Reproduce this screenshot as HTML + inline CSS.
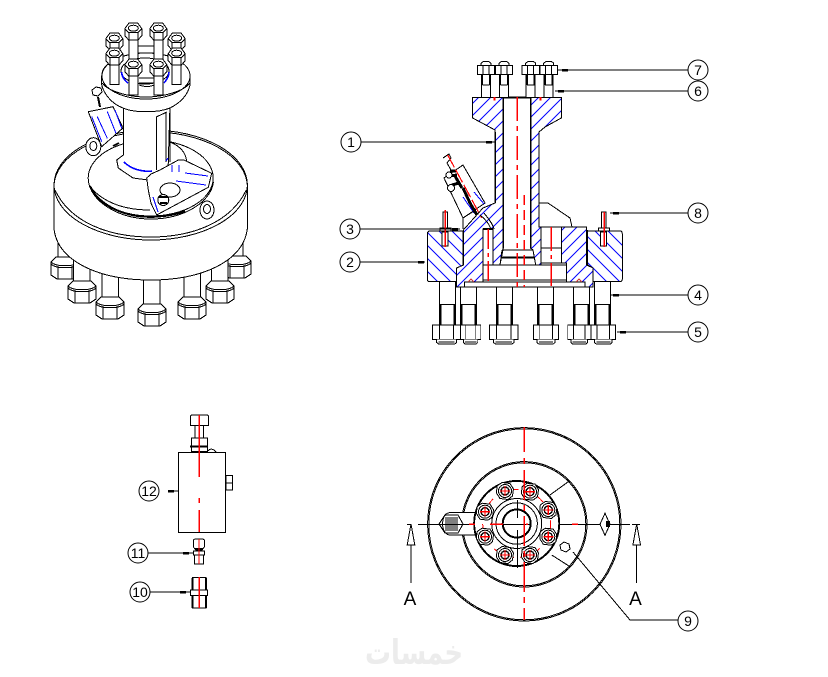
<!DOCTYPE html>
<html><head><meta charset="utf-8"><style>
html,body{margin:0;padding:0;background:#fff}
svg{display:block}
text{font-family:"Liberation Sans","DejaVu Sans",sans-serif;fill:#000}
.n{font-size:14px;text-anchor:middle}
.d{fill:none;stroke:#000;stroke-width:1}
.w{fill:#fff;stroke:#000;stroke-width:1}
.h{stroke:#000;stroke-width:1}
.r{fill:none;stroke:#f00;stroke-width:1.2;stroke-dasharray:24 5 5 5}
.b{fill:none;stroke:#00f;stroke-width:1}
.t{fill:none;stroke:#000;stroke-width:2}
</style></head><body>
<svg width="828" height="677" viewBox="0 0 828 677" xmlns="http://www.w3.org/2000/svg">
<defs>
<pattern id="hf" width="12" height="12" patternUnits="userSpaceOnUse"><path d="M-1 13L13 -1M-3 3L3 -3M9 15L15 9" stroke="#00f" stroke-width="1"/></pattern>
<pattern id="hb" width="13" height="13" patternUnits="userSpaceOnUse"><path d="M-1 -1L14 14M-3 10L3 16M10 -3L16 3" stroke="#00f" stroke-width="1"/></pattern>
<g id="tb"><rect class="w" x="-4.500" y="12.600" width="9" height="23.400"/><path class="t" d="M-3.600 12.600V23.300M3.600 12.600V23.300" style="stroke-width:1.400"/><path class="d" d="M-3.600 23.300H3.600"/><path class="w" d="M-5 4V1.500L-3 0H3L5 1.500V4"/><rect class="w" x="-8.700" y="4" width="17.400" height="8.600"/><path class="d" d="M-3 4V12.600M3 4V12.600"/></g>
<g id="nb"><rect class="w" x="-14" y="0" width="28" height="14.300"/><path class="d" d="M-7 0V14.300M7 0V14.300"/><path class="w" d="M-10 14.300V17.500L-8 19H8L10 17.500V14.300"/><path class="d" d="M-8 17H8"/></g>
<g id="sb"><rect class="w" x="-8" y="0" width="16" height="43.500"/><path class="t" d="M-7 22.600V43.500M7 22.600V43.500"/><path class="d" d="M-8 22.600H8"/></g>
<g id="sb2"><rect class="w" x="-8" y="0" width="16" height="38"/><path class="t" d="M-7 17.300V38M7 17.300V38"/><path class="d" d="M-8 17.300H8"/></g>
<g id="n3"><path class="w" d="M-8.500 -3L-4.500 -8.500H4.500L8.500 -3V4L4.500 8.500H-4.500L-8.500 4Z"/><path class="d" d="M-8.500 -3L-4.500 1H4.500L8.500 -3M-4.500 1V8.500M4.500 1V8.500"/><ellipse class="d" cx="0" cy="-3.500" rx="5" ry="3"/></g>
<g id="b3"><rect class="w" x="-4.500" y="4" width="9" height="24"/><use href="#n3"/></g>
<g id="bb"><path class="w" d="M-14 -6L-9 -11H9L14 -6V7L8 11H-8L-14 7Z"/><path class="d" d="M-14 -6C-9 -1 9 -1 14 -6M-7 -2V11M7 -2V11M-14 -4C-9 1 9 1 14 -4"/></g>
<g id="tv"><path class="w" d="M-8 -5L-3 -8.500L5 -7.500L8.500 -2L7.500 5L3 8.500L-5 7.500L-8.500 2Z"/><circle class="d" cx="0" cy="0" r="6.500"/><circle cx="0" cy="0" r="4" fill="none" stroke="#000" stroke-width="1.400"/><path d="M-5 0H5M0 -5V5" stroke="#f00" stroke-width="1.200"/></g>
<g id="ar"><path d="M0 -59V0" class="d"/><path class="w" d="M0 -59L3.800 -38H-3.800Z"/></g>
</defs>

<!-- 3D VIEW -->
<g shape-rendering="crispEdges">
<rect class="w" x="58" y="240" width="14" height="20"/><use href="#bb" x="65" y="268"/>
<rect class="w" x="229" y="240" width="14" height="20"/><use href="#bb" x="237" y="267"/>
<rect class="w" x="73.500" y="255" width="16.700" height="27"/><use href="#bb" x="82" y="292"/>
<rect class="w" x="211.500" y="255" width="16.700" height="27"/><use href="#bb" x="220" y="292"/>
<rect class="w" x="102" y="265" width="16.700" height="33"/><use href="#bb" x="110" y="308"/>
<rect class="w" x="184" y="265" width="16.700" height="33"/><use href="#bb" x="192" y="308"/>
<rect class="w" x="143.500" y="270" width="16.700" height="36"/><use href="#bb" x="152" y="315"/>

<path class="w" d="M54 185V229C58 262 100 280 150.700 280C201 280 243 262 247.300 229V185A96.700 55 0 0 0 54 185Z"/>
<ellipse class="d" cx="150.700" cy="185" rx="96.700" ry="55"/>
<path class="d" d="M55 190C70 222 108 237 150.700 237C193 237 231 222 246.300 190"/>

<!-- eye bolts -->
<ellipse class="w" cx="93.300" cy="146.700" rx="7.500" ry="9"/><ellipse class="d" cx="93.300" cy="146" rx="3.500" ry="4.500"/>
<ellipse class="w" cx="207" cy="210" rx="7" ry="9"/><ellipse class="d" cx="207" cy="209" rx="3.500" ry="4.500"/>

<!-- raised base -->
<ellipse class="w" cx="150.700" cy="178" rx="62.500" ry="38"/>
<path class="d" d="M88.300 180C90 201 118 219 151 219C184 219 211 202 213.500 182"/>
<path class="t" d="M90 186C96 200 112 210 128 214M128 214C145 219 170 217 185 211"/>
<path class="d" d="M93 190C108 205 128 210 150 210"/>

<!-- valve -->
<path class="w" d="M88.300 111.700L113 106.700L123 128L101.700 146.700Z"/>
<path class="b" d="M91.700 116.700L101.700 141.700M97.300 116.700L107.300 138.300M107.300 111.700L116 133.300M115 110L121.700 128.300"/>
<path class="t" d="M98 97L100 107"/>
<path class="w" d="M92 90L96 87L101 88L102 92L98 96L93 95Z"/>
<path class="t" d="M113 146L119 143"/>

<!-- neck -->
<path class="w" d="M123.300 105V155L116.700 160L118.300 168L133 178L148 180L168 172L170 105Z"/>
<path class="d" d="M156.700 116.700V170M166 112V162M170 112V162M156.700 116.700L167 112"/>
<path class="b" d="M124 162C132 170 144 172 152 171" style="stroke-width:1.600"/>
<path class="d" d="M170 142C180 146 186 152 186.700 162"/>

<!-- rib -->
<path class="w" d="M146.700 178L151 174L160 170L178.300 160L184 160L211.700 173.300L208.300 187.300L156.700 215L151 203.300L148.300 190Z"/>
<path class="b" d="M172 165V172M179 165V172M185 173L208 176M176 181L206 185M153 197L158 212M166 161L168 158"/>
<ellipse class="d" cx="170" cy="190" rx="10" ry="7"/>
<circle class="w" cx="163.300" cy="200" r="5.500"/>
<path class="t" d="M159 197H168M160 203H167"/>

<!-- flange -->
<path class="w" d="M101.700 76V85C104 94 112 104 123 108C134 113 158 113 170 108C182 102 188 94 190 85V76A44 23 0 0 0 101.700 76Z"/>
<path class="d" d="M102 83C108 91 128 97 146 97C164 97 184 91 190 83"/>
<ellipse class="d" cx="146" cy="76" rx="44" ry="23"/>
<use href="#b3" x="133.300" y="31.700"/><use href="#b3" x="158.300" y="31.700"/>
<path class="d" d="M138 46H154"/>
<use href="#b3" x="114.300" y="41.700"/><use href="#b3" x="176.700" y="41.700"/>
<use href="#b3" x="114.300" y="56.700"/><use href="#b3" x="176.700" y="56.700"/>
<ellipse class="w" cx="145" cy="71" rx="24" ry="13"/>
<path class="b" d="M121.500 72C122 77 125 81 128 83M169 72C169 76 166 81 164 83" style="stroke-width:1.600"/>
<path class="d" d="M139 78H154M139 83H154M139 85C144 87 150 87 154 85"/>
<g><rect class="w" x="128.800" y="70" width="9" height="25"/><rect class="w" x="153.800" y="70" width="9" height="25"/></g>
<use href="#n3" x="133.300" y="67.700"/><use href="#n3" x="158.300" y="67.700"/>
</g>

<!-- SECTION -->
<g shape-rendering="crispEdges">
<path class="h" style="fill:url(#hb)" d="M430 231H463.300V265L456.700 268V281.700H430Q427.300 281.700 427.300 279V234Q427.300 231 430 231Z"/>
<path class="h" style="fill:url(#hb)" d="M587.700 231H620Q622.300 231 622.300 234V279Q622.300 281.700 620 281.700H593V268L587.700 265Z"/>
<path class="h" style="fill:url(#hf)" d="M472.700 97.700H503.300V248L500 265H493V229H483V282H464.300V287H456.700V268L463.300 265V230L483 208L495 203V130L472.700 118Z"/>
<path class="h" style="fill:url(#hf)" d="M530.500 97.700H561.300V118L545 127L539 132V227H541V265H535.700L533 250L530.500 248Z"/>
<path class="h" style="fill:url(#hf)" d="M561.700 227H586.700V265L593 268V287H585V282H566.700V263H561.700Z"/>
<path class="d" d="M539 203H548L570 218L572 227H587"/>
<path class="t" d="M503.300 97.700H530.500"/>
<path class="t" style="stroke-width:1.500" d="M503.300 97.700V248M530.500 97.700V248M463.300 231V265M587 230V265M495 203V132"/>
<path class="d" d="M483 229H493V265M483 265H566.700V280H483M541 227H561.700V263H541V227M541 248H561.700M464.300 282H585V287H456.700"/>
<path class="d" d="M502 250H533M500 265L502 250M535.700 265L533 250"/>
<path class="t" d="M501 257.700H534M483 229H493"/>
<path d="M468 282L471 279L474 282M576 282L579 279L582 282" fill="none" stroke="#c33"/>

<!-- top bolts -->
<use href="#tb" x="486" y="61.700"/><use href="#tb" x="504" y="61.700"/><use href="#tb" x="530.700" y="61.700"/><use href="#tb" x="548.700" y="61.700"/>
<path d="M494.700 97V100.500M540.300 97V100.500" stroke="#f00" stroke-width="2"/>

<!-- lower bolts -->
<use href="#sb" x="447.300" y="281.700"/><use href="#sb2" x="468.700" y="287"/><use href="#sb2" x="504.700" y="287"/><use href="#sb2" x="545.300" y="287"/><use href="#sb2" x="581.300" y="287"/><use href="#sb" x="602.700" y="281.700"/>
<use href="#nb" transform="translate(446.700 325)"/>
<use href="#nb" transform="translate(470.700 325) scale(.71 1)"/>
<use href="#nb" transform="translate(503.800 325) scale(1.030 1)"/>
<use href="#nb" transform="translate(546 325) scale(.9 1)"/>
<use href="#nb" transform="translate(579.300 325) scale(.83 1)"/>
<use href="#nb" transform="translate(603.300 325) scale(.88 1)"/>

<!-- small bolts -->
<rect class="w" x="443" y="212" width="4.500" height="16"/><rect class="w" x="440" y="228" width="11" height="3"/><rect class="w" x="442" y="232" width="6" height="14"/>
<rect class="w" x="601.500" y="212" width="4.500" height="16"/><rect class="w" x="598.500" y="228" width="11" height="3"/><rect class="w" x="600.500" y="232" width="6" height="14"/>
<path d="M445.300 210V247M604.300 212V247" stroke="#f00" stroke-width="1.200"/>

<!-- valve -->
<path class="w" d="M444 178L463 165L485 203L463 218Z"/>
<path class="b" d="M463 197L474 213M474 192L484 204"/>
<path class="d" d="M443 158L449 154L451 158L447 163L451 170"/>
<path d="M450 171L456 171M449 176L457 175M455 176L462 188M463 188L470 203M470 203L477 215M452 185L459 183" stroke="#000" stroke-width="3" fill="none"/>
<circle class="w" cx="451" cy="188" r="3.500"/><circle class="w" cx="449" cy="175" r="3"/>
<path d="M447.700 155L481.700 218" stroke="#f00" stroke-width="1.200" stroke-dasharray="14 3"/>
<path class="d" d="M480 215C486 220 490 225 491 230M484 213C488 218 493 224 494 229M463 218V229M463 218L474 211"/>

<!-- centers -->
<path class="r" d="M517.300 97V287"/>
<path class="r" d="M524.300 195V287" style="stroke-dasharray:10 5"/>
<path class="r" d="M488.300 229V281" style="stroke-dasharray:20 4 4 4"/>
<path class="r" d="M551.300 227V286" style="stroke-dasharray:24 4 4 4"/>
</g>

<!-- leaders -->
<path class="d" d="M361 142H495M360 262H425M360 229H460M688 295H610M688 332H617M688 91H555M688 70H558M688 213H610"/>
<g fill="#000"><rect x="486" y="141" width="6" height="2.500"/><rect x="418" y="261" width="6" height="2.500"/><rect x="452" y="228" width="6" height="2.500"/><rect x="613" y="294" width="6" height="2.500"/><rect x="620" y="331" width="6" height="2.500"/><rect x="558" y="90" width="6" height="2.500"/><rect x="562" y="69" width="6" height="2.500"/><rect x="613" y="212" width="6" height="2.500"/></g>
<g fill="#fff" stroke="#000">
<circle cx="351" cy="142" r="10"/><circle cx="350" cy="262" r="10"/><circle cx="350" cy="229" r="10"/><circle cx="698" cy="295" r="10"/><circle cx="698" cy="332" r="10"/><circle cx="698" cy="91" r="10"/><circle cx="698" cy="70" r="10"/><circle cx="698" cy="213" r="10"/><circle cx="688" cy="621" r="10"/><circle cx="140" cy="592" r="10"/><circle cx="138" cy="553" r="10"/><circle cx="149" cy="491" r="10"/>
</g>
<text class="n" x="351" y="147">1</text><text class="n" x="350" y="267">2</text><text class="n" x="350" y="234">3</text><text class="n" x="698" y="300">4</text><text class="n" x="698" y="337">5</text><text class="n" x="698" y="96">6</text><text class="n" x="698" y="75">7</text><text class="n" x="698" y="218">8</text><text class="n" x="688" y="626">9</text><text class="n" x="140" y="597">10</text><text class="n" x="138" y="558">11</text><text class="n" x="149" y="496">12</text>

<!-- SIDE PARTS -->
<g shape-rendering="crispEdges">
<rect class="w" x="178.300" y="452.300" width="47" height="80"/>
<rect class="w" x="226" y="475.700" width="6.700" height="14.300"/><path class="d" d="M226 483H232.700"/>
<path class="w" d="M190.300 416L191.500 415H207.500L208.700 416V425.700H190.300Z"/>
<rect class="w" x="195" y="425.700" width="8.300" height="12.300"/>
<rect class="w" x="191.700" y="438" width="15.600" height="13.700"/>
<path class="t" d="M190 446.700H208"/>
<path class="d" d="M208 451C210 448 214 449 216 452"/>
<path d="M199.300 415V477M199.300 498V503M199.300 510V532" stroke="#f00" stroke-width="1.200"/>
<path class="d" d="M168 491H178M148 553H193M150 592H190"/>
<rect x="168" y="490" width="6" height="2.500"/><rect x="183" y="552" width="6" height="2.500"/><rect x="180" y="591" width="6" height="2.500"/>
<path class="w" d="M193.300 540L195 539H203L204.300 540V547L202 550H196L193.300 547Z"/>
<path class="t" d="M195 549H203"/>
<rect class="w" x="193.300" y="551" width="11" height="4"/>
<rect class="w" x="194.300" y="555" width="9" height="9"/>
<path d="M199 539V564" stroke="#f00" stroke-width="1.200"/>
<rect class="w" x="192.300" y="577.300" width="13.700" height="12.700"/>
<rect class="w" x="190.300" y="590" width="17.300" height="5.500"/>
<rect class="w" x="192.300" y="595.500" width="13.700" height="12.500"/>
<path class="t" d="M192.300 578V590M206 578V590M192.300 596V608M206 596V608"/>
<path d="M199.300 577V608" stroke="#f00" stroke-width="1.200"/>
</g>

<!-- TOP VIEW -->
<g shape-rendering="crispEdges">
<circle class="d" cx="524.300" cy="524.300" r="96.700"/><circle class="d" cx="524.300" cy="524.300" r="95.500"/>
<circle class="d" cx="524.300" cy="524.300" r="62.700"/><circle class="d" cx="524.300" cy="524.300" r="61.500"/>
<path class="d" d="M550 495L568.300 481.700M551.700 555L570 566.700"/>
<path class="w" d="M475 512.700H449Q443 514 442.500 524Q443 533 449 535H475Z"/>
<path class="d" d="M439 524L445 515H458L463 524L458 533H445Z"/>
<path class="d" d="M447 518H456M447 520H456M447 522H456M447 524H456M447 526H456M447 528H456M447 530H456M446 517V531M457 517V531"/>
<path class="d" d="M418 524.300H630"/>
<circle class="w" cx="516.700" cy="523.500" r="43"/>
<circle cx="516.700" cy="523.500" r="42.300" fill="none" stroke="#000" stroke-width="1.400"/>
<circle class="d" cx="516.700" cy="523.500" r="25"/><circle class="d" cx="516.700" cy="523.500" r="20.700"/>
<circle cx="516.700" cy="523.500" r="14" fill="#fff" stroke="#000" stroke-width="2"/>
<circle cx="516.700" cy="523.500" r="34" fill="none" stroke="#f00" stroke-dasharray="8 6"/>
<use href="#tv" x="485" y="511.700"/><use href="#tv" x="548.300" y="510"/><use href="#tv" x="485" y="536.700"/><use href="#tv" x="548.300" y="536.700"/><use href="#tv" x="505" y="491"/><use href="#tv" x="530" y="491.700"/><use href="#tv" x="505" y="555"/><use href="#tv" x="530" y="555"/>
<path class="d" d="M517.300 500V518M517.300 530V568M503 524.300H530"/>
<path d="M524.300 427V452M524.300 458V464M524.300 470V620" stroke="#f00" stroke-width="1.300" stroke-dasharray="30 5 6 5"/>
<path d="M469 524.300H475M490 524.300H503M572 524.300H578M526 524.300H528" stroke="#f00" stroke-width="1.300"/>
<path class="w" d="M560 545L564 542L569 544L570 549L566 552L561 550Z"/>
<path class="w" d="M605 513.300L610 524.300L605 535.300L600 524.300Z"/>
<path d="M606 521H610V527H606Z" fill="#000"/>
<path class="d" d="M573 552L630 620H678"/>
<path class="d" d="M407 524.300H411M632 524.300H640"/>
<use href="#ar" x="411" y="583"/><use href="#ar" x="636.700" y="583"/>
</g>
<text x="410" y="605" font-size="19" text-anchor="middle">A</text>
<text x="635.500" y="605" font-size="19" text-anchor="middle">A</text>

<!-- watermark -->
<text x="414" y="664" font-size="34" text-anchor="middle" font-weight="bold" style="font-family:'DejaVu Sans',sans-serif;fill:#ececec" textLength="98" lengthAdjust="spacingAndGlyphs">خمسات</text>
</svg>
</body></html>
